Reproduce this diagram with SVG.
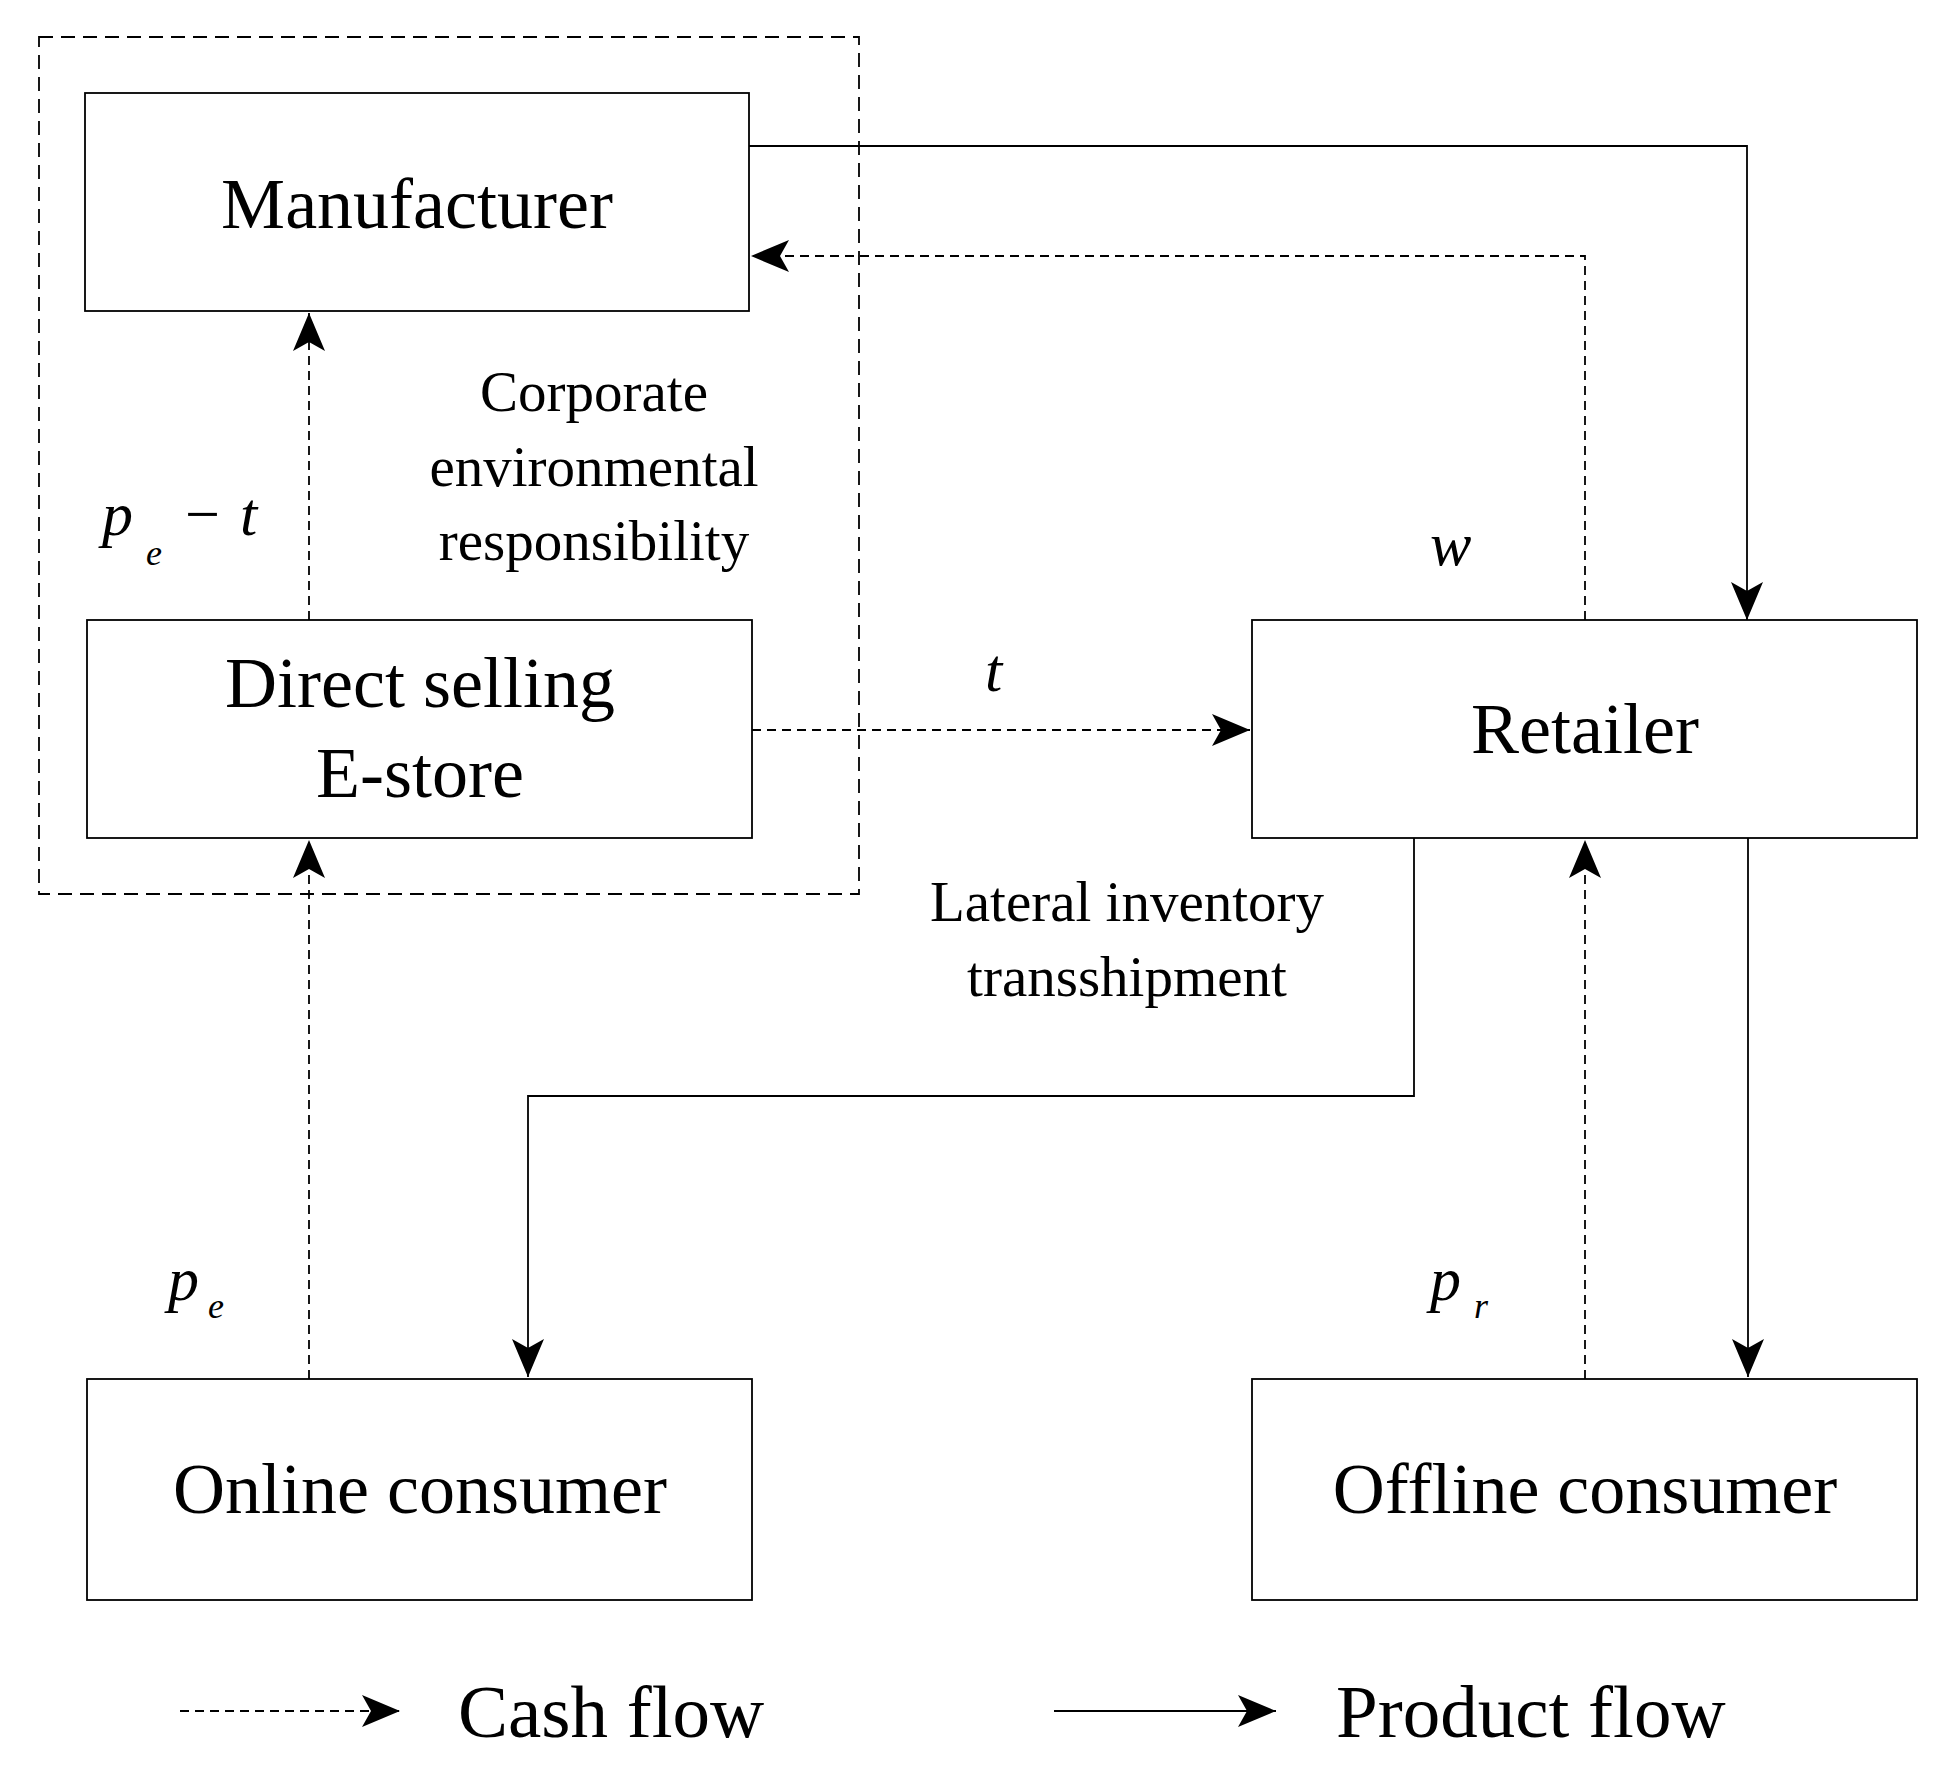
<svg xmlns="http://www.w3.org/2000/svg" width="1952" height="1782" viewBox="0 0 1952 1782">
<style>
.box{fill:#fff;stroke:#000;stroke-width:1.8}
.p{fill:none;stroke:#000;stroke-width:1.8;marker-end:url(#ah)}
.c{fill:none;stroke:#000;stroke-width:1.8;stroke-dasharray:9,6;marker-end:url(#ah)}
text{font-family:"Liberation Serif",serif;fill:#000}
.big{font-size:72px;text-anchor:middle}
.mid{font-size:57px;text-anchor:middle}
.m{font-size:62px;font-style:italic}
.s{font-size:36px;font-style:italic}
</style>
<defs>
<marker id="ah" markerWidth="40" markerHeight="32" refX="38" refY="16" orient="auto" markerUnits="userSpaceOnUse">
<path d="M0,0 L38,16 L0,32 L9,16 Z" fill="#000"/>
</marker>
</defs>
<rect x="39" y="37" width="820" height="857" fill="none" stroke="#000" stroke-width="1.8" stroke-dasharray="14,8"/>
<g id="manufacturer"><rect class="box" x="85" y="93" width="664" height="218"/><text class="big" x="417" y="228">Manufacturer</text></g>
<g id="estore"><rect class="box" x="87" y="620" width="665" height="218"/><text class="big" x="420" y="707">Direct selling</text><text class="big" x="420" y="797">E-store</text></g>
<g id="retailer"><rect class="box" x="1252" y="620" width="665" height="218"/><text class="big" x="1585" y="753">Retailer</text></g>
<g id="online"><rect class="box" x="87" y="1379" width="665" height="221"/><text class="big" x="420" y="1513">Online consumer</text></g>
<g id="offline"><rect class="box" x="1252" y="1379" width="665" height="221"/><text class="big" x="1585" y="1513">Offline consumer</text></g>
<g id="connectors">
<path class="p" d="M749,146 H1747 V620"/>
<path class="c" d="M1585,620 V256 H751"/>
<path class="c" d="M309,620 V313"/>
<path class="c" d="M752,730 H1250"/>
<path class="p" d="M1414,838 V1096 H528 V1377"/>
<path class="p" d="M1748,838 V1377"/>
<path class="c" d="M1585,1379 V840"/>
<path class="c" d="M309,1379 V840"/>
<path class="c" d="M180,1711 H400"/>
<path class="p" d="M1054,1711 H1276"/>
</g>
<g id="labels">
<text class="mid" x="594" y="411">Corporate</text>
<text class="mid" x="594" y="486">environmental</text>
<text class="mid" x="594" y="560">responsibility</text>
<text class="mid" x="1127" y="921">Lateral inventory</text>
<text class="mid" x="1127" y="996">transshipment</text>
<text class="m" x="102" y="535">p</text><text class="s" x="146" y="565">e</text><text x="185" y="535" style="font-size:62px">−</text><text class="m" x="240" y="535">t</text>
<text class="m" x="1430" y="565">w</text>
<text class="m" x="985" y="691">t</text>
<text class="m" x="168" y="1300">p</text><text class="s" x="208" y="1318">e</text>
<text class="m" x="1430" y="1300">p</text><text class="s" x="1474" y="1318">r</text>
<text x="458" y="1737" style="font-size:75px">Cash flow</text>
<text x="1336" y="1737" style="font-size:75px">Product flow</text>
</g>
</svg>
